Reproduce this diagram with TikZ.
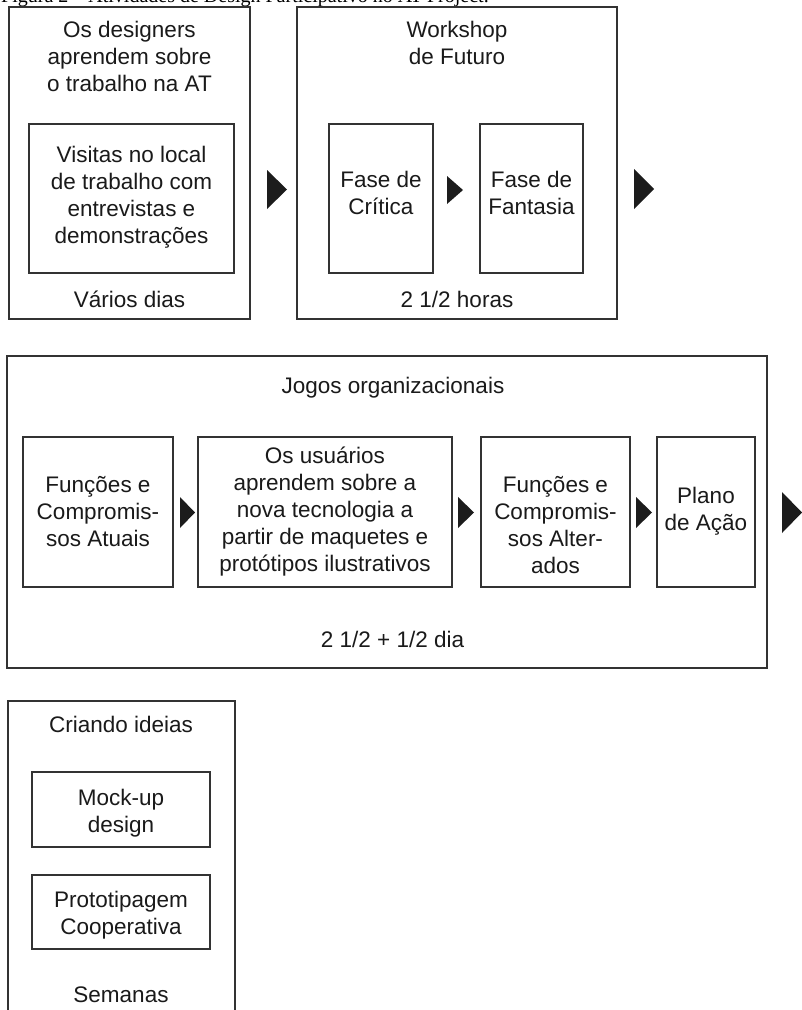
\documentclass[tikz,border=0pt]{standalone}
\usepackage{fontspec}
\setmainfont{Liberation Sans}
\newfontfamily\capfont{Liberation Serif}
\definecolor{linec}{HTML}{333333}
\definecolor{txtc}{HTML}{1A1A1A}
\definecolor{arrc}{HTML}{1C1C1C}
\newcommand\fstrut{\rule{0pt}{18pt}}
\begin{document}
\begin{tikzpicture}[x=1pt,y=-1pt,
  box/.style={draw=linec, line width=1.7pt, inner sep=0pt, outer sep=0pt},
  lbl/.style={inner sep=0pt, outer sep=0pt, align=center, text=txtc,
    font=\fontsize{22.5}{27}\selectfont, anchor=north},
  one/.style={inner sep=0pt, outer sep=0pt, text=txtc,
    font=\fontsize{22.5}{27}\selectfont, anchor=base},
  tri/.style={fill=arrc, draw=none}]
\useasboundingbox (0,0) rectangle (802,1010);
\clip (0,0) rectangle (802,1010);
\fill[white] (0,0) rectangle (802,1010);

% caption (cut off at the top)
\node[anchor=base west, inner sep=0pt, font=\capfont\fontsize{20}{22}\selectfont, text=black] (cap) at (1,2.5) {Figura 2 – Atividades de Design Participativo no AT-Project.};

% ---------- top row ----------
\node[box, minimum width=241pt, minimum height=312pt] (o1) at (129.5,163) {};
\node[box, minimum width=205pt, minimum height=149pt] (i1) at (131.5,198.5) {};
\node[lbl] (t1) at (129.5,19) {\fstrut Os designers\\aprendem sobre\\o trabalho na AT};
\node[lbl] (t2) at (131.5,144) {\fstrut Visitas no local\\de trabalho com\\entrevistas e\\demonstrações};
\node[one] (t3) at (129.5,307) {Vários dias};

\node[box, minimum width=320pt, minimum height=312pt] (o2) at (457,163) {};
\node[box, minimum width=104pt, minimum height=149pt] (c1) at (381,198.5) {};
\node[box, minimum width=103pt, minimum height=149pt] (c2) at (531.5,198.5) {};
\node[lbl] (t4) at (457,19) {\fstrut Workshop\\de Futuro};
\node[lbl] (t5) at (381,169) {\fstrut Fase de\\Crítica};
\node[lbl] (t6) at (531.5,169) {\fstrut Fase de\\Fantasia};
\node[one] (t7) at (457,307) {2 1/2 horas};

\fill[tri] (267,170) -- (287,189.5) -- (267,209) -- cycle;
\fill[tri] (447,176) -- (463,190) -- (447,204) -- cycle;
\fill[tri] (634,169) -- (654,189) -- (634,209) -- cycle;

% ---------- middle row ----------
\node[box, minimum width=760pt, minimum height=312pt] (o3) at (387,512) {};
\node[one] (t8) at (393,393) {Jogos organizacionais};
\node[box, minimum width=150pt, minimum height=150pt] (m1) at (98,512) {};
\node[box, minimum width=254pt, minimum height=150pt] (m2) at (325,512) {};
\node[box, minimum width=149pt, minimum height=150pt] (m3) at (555.5,512) {};
\node[box, minimum width=98pt, minimum height=150pt] (m4) at (706,512) {};
\node[lbl] (t9) at (98,474) {\fstrut Funções e\\Compromis-\\sos Atuais};
\node[lbl] (t10) at (325,445) {\fstrut Os usuários\\aprendem sobre a\\nova tecnologia a\\partir de maquetes e\\protótipos ilustrativos};
\node[lbl] (t11) at (555.5,474) {\fstrut Funções e\\Compromis-\\sos Alter-\\ados};
\node[lbl] (t12) at (706,485) {\fstrut Plano\\de Ação};
\node[one] (t13) at (392.5,647) {2 1/2 + 1/2 dia};

\fill[tri] (180,497) -- (195,512.5) -- (180,528) -- cycle;
\fill[tri] (458,497) -- (474,512.5) -- (458,528) -- cycle;
\fill[tri] (636,497) -- (652,512.5) -- (636,528) -- cycle;
\fill[tri] (782,492) -- (802,512.5) -- (782,533) -- cycle;

% ---------- bottom ----------
\node[box, minimum width=227pt, minimum height=339pt] (o4) at (121.5,870.5) {};
\node[one] (t14) at (121,732) {Criando ideias};
\node[box, minimum width=178pt, minimum height=75pt] (k1) at (121,809.5) {};
\node[box, minimum width=178pt, minimum height=74pt] (k2) at (121,912) {};
\node[lbl] (t15) at (121,787) {\fstrut Mock-up\\design};
\node[lbl] (t16) at (121,889) {\fstrut Prototipagem\\Cooperativa};
\node[one] (t17) at (121,1002) {Semanas};
\end{tikzpicture}
\end{document}
